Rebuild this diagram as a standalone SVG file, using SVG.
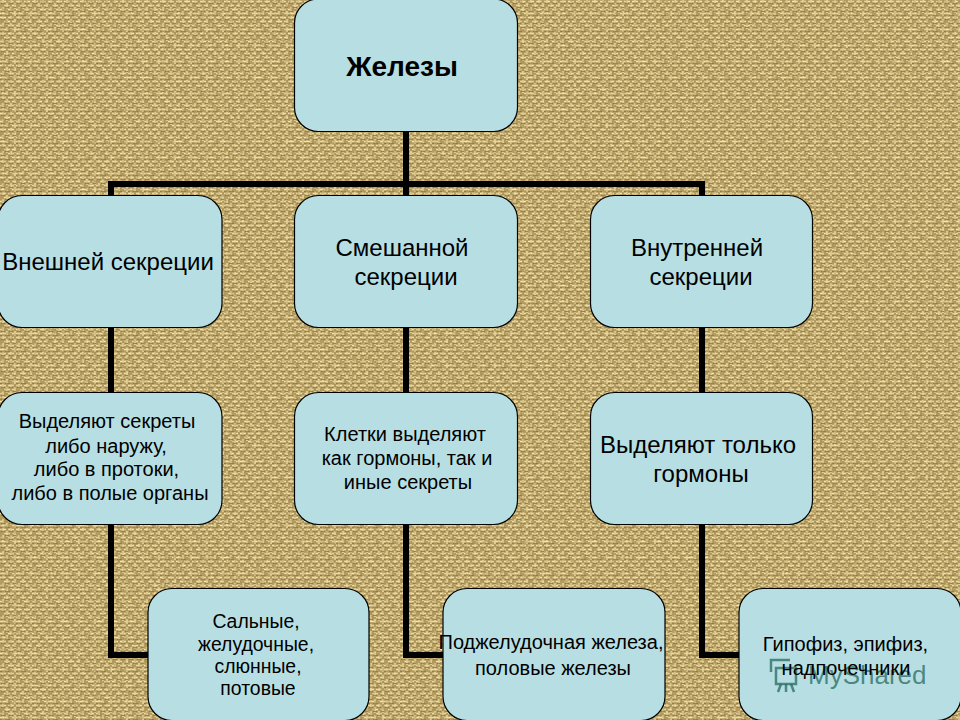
<svg xmlns="http://www.w3.org/2000/svg" width="960" height="720" viewBox="0 0 960 720">
<style>
.n{fill:#b7dfe3;stroke:#000;stroke-width:1.2}
.c{fill:none;stroke:#000;stroke-width:6}
text{font-family:"Liberation Sans",Arial,sans-serif;fill:#000;text-anchor:middle}
.t24{font-size:24px}.t20{font-size:20px}.t19{font-size:19.400px}
.wm{font-size:26px;fill:#2f6f66;fill-opacity:.8;text-anchor:start}
</style>
<defs>
<pattern id="weave" width="16" height="16" patternUnits="userSpaceOnUse">
<rect width="16" height="16" fill="#b79d5f"/>
<g stroke="#f3e6b4" stroke-width="1.600" fill="none">
<path d="M0 1.500h6M8 1.500h6M4 5.500h6M12 5.500h4M0 9.500h2M8 9.500h6M0 13.500h6M12 13.500h4"/>
</g>
<g stroke="#e8d69a" stroke-width="1.600" fill="none">
<path d="M7 3v6M15 3v6M3 7v6M11 7v6M7 11v5M15 11v5M3 0v4M11 0v4"/>
</g>
<g stroke="#806830" stroke-width="1" fill="none" opacity=".7">
<path d="M1 3.500h4M9 3.500h4M5 7.500h4M13 7.500h3M1 11.500h4M9 11.500h4M0 15.500h2M5 15.500h5"/>
</g>
</pattern>
<filter id="mottle" x="0" y="0" width="100%" height="100%">
<feTurbulence type="fractalNoise" baseFrequency="0.35" numOctaves="2" seed="4"/>
<feColorMatrix type="matrix" values="0 0 0 0 0.35  0 0 0 0 0.26  0 0 0 0 0.10  1.600 0 0 0 -0.600"/>
</filter>
</defs>
<g id="background">
<rect width="960" height="720" fill="url(#weave)"/>
<rect width="960" height="720" filter="url(#mottle)"/>
</g>
<g id="connectors">
<path class="c" d="M406 131V184M111 195V184H702V195M406 184V195"/>
<path class="c" d="M111 327V392M111 524V655H148"/>
<path class="c" d="M406 327V392M406 524V655H443"/>
<path class="c" d="M702 327V392M702 524V655H739"/>
</g>
<g id="node-glands">
<rect class="n" x="294.500" y="-1" width="223" height="132.500" rx="24"/>
<text x="402" y="76" font-size="28" font-weight="bold">Железы</text>
</g>
<g id="node-exocrine">
<rect class="n" x="-2" y="195.500" width="224" height="132" rx="24"/>
<text class="t24" x="108" y="270">Внешней секреции</text>
</g>
<g id="node-mixed">
<rect class="n" x="294.500" y="195.500" width="223" height="132" rx="24"/>
<text class="t24" x="402" y="256">Смешанной</text>
<text class="t24" x="406" y="285">секреции</text>
</g>
<g id="node-endocrine">
<rect class="n" x="590.500" y="195.500" width="222" height="132" rx="24"/>
<text class="t24" x="697" y="256">Внутренней</text>
<text class="t24" x="701" y="285">секреции</text>
</g>
<g id="node-exo-desc">
<rect class="n" x="-2" y="392.500" width="224" height="132" rx="24"/>
<text class="t20" x="107" y="428">Выделяют секреты</text>
<text class="t20" x="106" y="453">либо наружу,</text>
<text class="t20" x="106.500" y="476">либо в протоки,</text>
<text class="t20" x="110" y="500">либо в полые органы</text>
</g>
<g id="node-mixed-desc">
<rect class="n" x="294.500" y="392.500" width="223" height="132" rx="24"/>
<text class="t20" x="405" y="441">Клетки выделяют</text>
<text class="t20" x="407" y="465">как гормоны, так и</text>
<text class="t20" x="408" y="489">иные секреты</text>
</g>
<g id="node-endo-desc">
<rect class="n" x="590.500" y="392.500" width="222" height="132" rx="24"/>
<text class="t24" x="698" y="453">Выделяют только</text>
<text class="t24" x="701" y="482">гормоны</text>
</g>
<g id="node-exo-examples">
<rect class="n" x="148" y="588.500" width="221" height="132" rx="24"/>
<text class="t19" x="256" y="628">Сальные,</text>
<text class="t19" x="256" y="651">желудочные,</text>
<text class="t19" x="258" y="673">слюнные,</text>
<text class="t19" x="258" y="695">потовые</text>
</g>
<g id="node-mixed-examples">
<rect class="n" x="443" y="588.500" width="222" height="132" rx="24"/>
<text class="t20" x="551" y="649">Поджелудочная железа,</text>
<text class="t20" x="553" y="675">половые железы</text>
</g>
<g id="node-endo-examples">
<rect class="n" x="739" y="588.500" width="222" height="132" rx="24"/>
<text class="wm" x="808" y="684">MyShared</text>
<g fill="none" stroke="#2f6f66" stroke-opacity=".8" stroke-width="2.500">
<rect x="776" y="668" width="20" height="16"/><path d="M771 672V660H790M781 684l-3 8M786 684v8M791 684l3 8"/>
</g>
<text class="t20" x="845.500" y="651">Гипофиз, эпифиз,</text>
<text class="t20" x="846" y="675">надпочечники</text>
</g>
</svg>
